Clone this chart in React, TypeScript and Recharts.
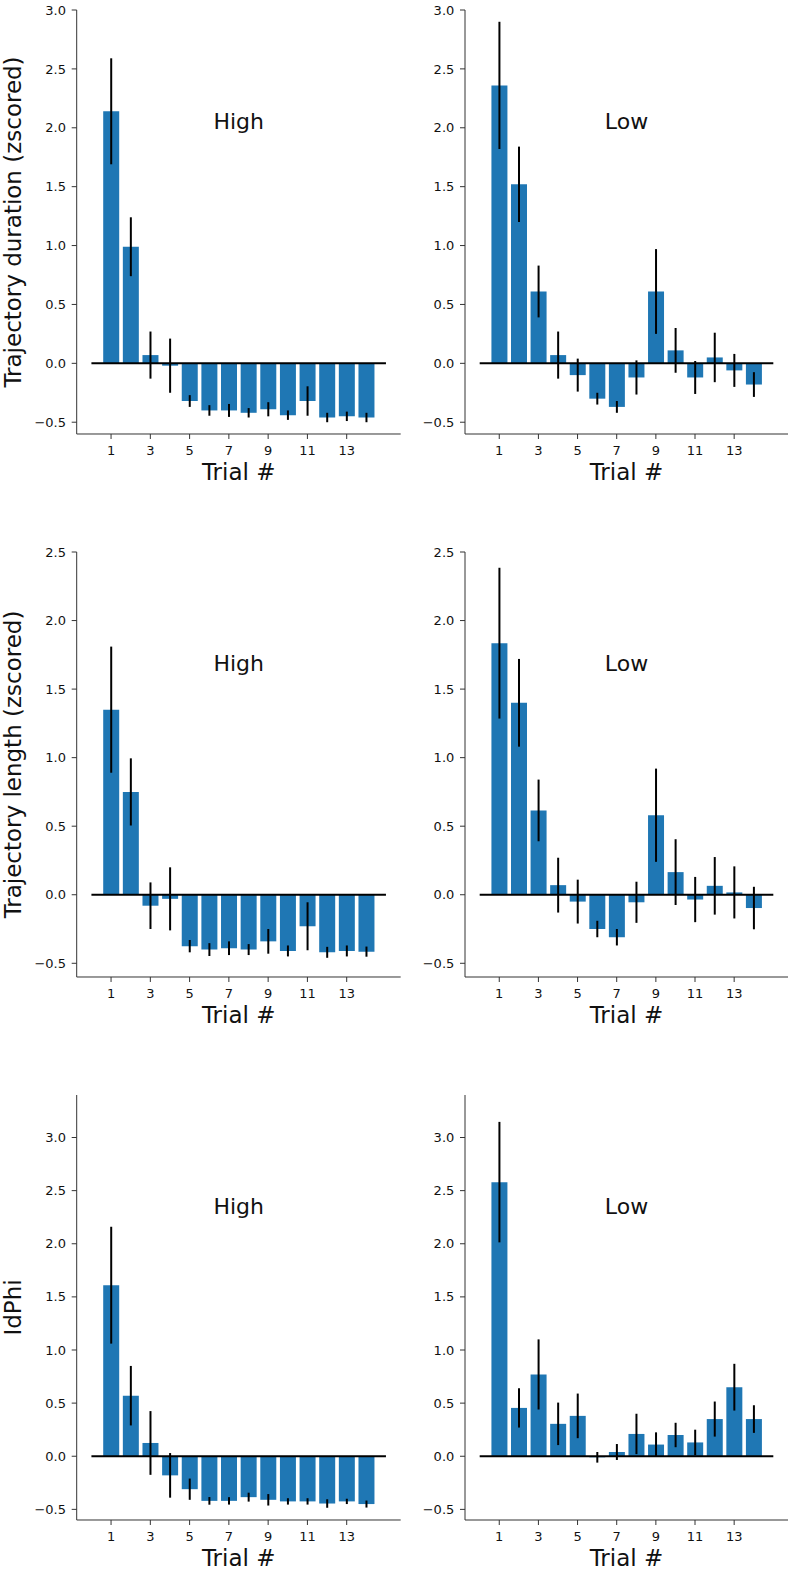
import React from 'react';
import { BarChart, Bar, XAxis, YAxis, ErrorBar, ReferenceLine, ReferenceDot } from 'recharts';

// trial numbers and tick lists
const trials = [1, 2, 3, 4, 5, 6, 7, 8, 9, 10, 11, 12, 13, 14];
const trialTicks = [1, 3, 5, 7, 9, 11, 13];
const ticksDuration = [-0.5, 0, 0.5, 1, 1.5, 2, 2.5, 3];
const ticksLength = [-0.5, 0, 0.5, 1, 1.5, 2, 2.5];
const ticksPhi = [-0.5, 0, 0.5, 1, 1.5, 2, 2.5, 3];

// trajectory duration (zscored)
const durHigh = [2.14, 0.99, 0.07, -0.02, -0.32, -0.4, -0.4, -0.42, -0.39, -0.44, -0.32, -0.46, -0.45, -0.46];
const durHighErr = [0.45, 0.25, 0.2, 0.23, 0.05, 0.045, 0.055, 0.04, 0.06, 0.04, 0.125, 0.04, 0.04, 0.04];
const durLow = [2.36, 1.52, 0.61, 0.07, -0.1, -0.3, -0.37, -0.12, 0.61, 0.11, -0.12, 0.05, -0.06, -0.18];
const durLowErr = [0.54, 0.32, 0.22, 0.2, 0.14, 0.05, 0.05, 0.145, 0.36, 0.19, 0.14, 0.21, 0.14, 0.105];

// trajectory length (zscored)
const lenHigh = [1.35, 0.75, -0.08, -0.03, -0.375, -0.4, -0.39, -0.4, -0.34, -0.41, -0.23, -0.42, -0.41, -0.415];
const lenHighErr = [0.46, 0.245, 0.17, 0.23, 0.045, 0.047, 0.05, 0.04, 0.09, 0.04, 0.175, 0.04, 0.04, 0.037];
const lenLow = [1.835, 1.4, 0.615, 0.07, -0.05, -0.25, -0.31, -0.055, 0.58, 0.165, -0.035, 0.065, 0.017, -0.097];
const lenLowErr = [0.55, 0.32, 0.225, 0.2, 0.16, 0.06, 0.06, 0.15, 0.34, 0.24, 0.165, 0.21, 0.19, 0.155];

// IdPhi
const phiHigh = [1.61, 0.57, 0.125, -0.18, -0.31, -0.42, -0.42, -0.385, -0.41, -0.425, -0.425, -0.445, -0.425, -0.45];
const phiHighErr = [0.55, 0.28, 0.3, 0.21, 0.1, 0.036, 0.035, 0.042, 0.054, 0.03, 0.03, 0.04, 0.025, 0.033];
const phiLow = [2.58, 0.455, 0.77, 0.305, 0.38, -0.01, 0.04, 0.21, 0.11, 0.2, 0.13, 0.35, 0.65, 0.35];
const phiLowErr = [0.567, 0.185, 0.33, 0.2, 0.21, 0.05, 0.075, 0.19, 0.115, 0.115, 0.12, 0.165, 0.22, 0.13];

const BLUE = '#1f77b4';
const AXIS = '#333';
const TEXT = '#111';
const FONT = '"DejaVu Sans", sans-serif';
const LABEL_SIZE = 23;

const fmt = (v: number) => (v < 0 ? '\u2212' : '') + Math.abs(v).toFixed(1);

const toRows = (values: number[], errs: number[]) =>
    trials.map((t, i) => ({ trial: t, v: values[i], e: errs[i] }));

interface PanelProps {
    values: number[];
    errs: number[];
    title: string;
    yLabel?: string;
    yDomain: [number, number];
    yTicks: number[];
    left: number;
    plotLeft: number;
    plotWidth: number;
    top: number;
    plotHeight: number;
}

function Panel({ values, errs, title, yLabel, yDomain, yTicks, left, plotLeft, plotWidth, top, plotHeight }: PanelProps) {
    const axisW = plotLeft - left;
    const width = axisW + plotWidth + 2;
    const height = 10 + plotHeight + 56;
    const [y0, y1] = yDomain;
    // x runs from -0.75 to 15.75, so the first/last bar centre sits 1.75 units in
    const pad = (plotWidth * 1.25) / 16.5;

    return (
        <div style={{ position: 'absolute', left, top: top - 10 }}>
            <BarChart
                width={width}
                height={height}
                data={toRows(values, errs)}
                margin={{ top: 10, right: 2, bottom: 0, left: 0 }}
                barCategoryGap="10%"
            >
                <XAxis dataKey="trial" type="category" hide height={0} padding={{ left: pad, right: pad }} />
                <XAxis
                    xAxisId="n"
                    dataKey="trial"
                    type="number"
                    domain={[-0.75, 15.75]}
                    allowDataOverflow
                    ticks={trialTicks}
                    interval={0}
                    height={56}
                    stroke={AXIS}
                    tickSize={5}
                    tickMargin={6.5}
                    tick={{ fontSize: 13, fill: TEXT }}
                    label={(p: any) => (
                        <text
                            x={p.viewBox.x + p.viewBox.width / 2}
                            y={p.viewBox.y + 46}
                            textAnchor="middle"
                            fontSize={LABEL_SIZE}
                            fill={TEXT}
                        >
                            Trial #
                        </text>
                    )}
                />
                <YAxis
                    type="number"
                    domain={yDomain}
                    allowDataOverflow
                    ticks={yTicks}
                    interval={0}
                    width={axisW}
                    stroke={AXIS}
                    tickSize={5}
                    tickMargin={5.7}
                    tickFormatter={fmt}
                    tick={{ fontSize: 13, fill: TEXT }}
                    label={
                        yLabel
                            ? (p: any) => {
                                  const x = p.viewBox.x + 21;
                                  const y = p.viewBox.y + p.viewBox.height / 2;
                                  return (
                                      <text
                                          x={x}
                                          y={y}
                                          transform={`rotate(-90, ${x}, ${y})`}
                                          textAnchor="middle"
                                          fontSize={LABEL_SIZE}
                                          fill={TEXT}
                                      >
                                          {yLabel}
                                      </text>
                                  );
                              }
                            : undefined
                    }
                />
                <Bar dataKey="v" fill={BLUE} isAnimationActive={false}>
                    <ErrorBar dataKey="e" width={0} stroke="#000" strokeWidth={2} direction="y" />
                </Bar>
                <ReferenceLine
                    xAxisId="n"
                    segment={[{ x: 0, y: 0 }, { x: 15, y: 0 }]}
                    stroke="#000"
                    strokeWidth={2}
                />
                <ReferenceDot
                    xAxisId="n"
                    x={7.5}
                    y={y0 + 0.72 * (y1 - y0)}
                    r={1}
                    fill="none"
                    stroke="none"
                    label={(p: any) => (
                        <text
                            x={p.viewBox.x + p.viewBox.width / 2}
                            y={p.viewBox.y + p.viewBox.height / 2}
                            textAnchor="middle"
                            fontSize={22}
                            fill={TEXT}
                        >
                            {title}
                        </text>
                    )}
                />
            </BarChart>
        </div>
    );
}

const cols = [
    { left: 0, plotLeft: 76.7, plotWidth: 324 },
    { left: 405, plotLeft: 465, plotWidth: 323 },
];
const rows = [
    { top: 10, plotHeight: 424 },
    { top: 552.3, plotHeight: 425 },
    { top: 1094.6, plotHeight: 425 },
];

export default function App() {
    return (
        <div
            style={{
                position: 'absolute',
                left: 0,
                top: 0,
                width: 795,
                height: 1572,
                background: '#fff',
                fontFamily: FONT,
            }}
        >
            <Panel values={durHigh} errs={durHighErr} title="High" yLabel="Trajectory duration (zscored)"
                yDomain={[-0.6, 3.0]} yTicks={ticksDuration} {...cols[0]} {...rows[0]} />
            <Panel values={durLow} errs={durLowErr} title="Low"
                yDomain={[-0.6, 3.0]} yTicks={ticksDuration} {...cols[1]} {...rows[0]} />
            <Panel values={lenHigh} errs={lenHighErr} title="High" yLabel="Trajectory length (zscored)"
                yDomain={[-0.6, 2.5]} yTicks={ticksLength} {...cols[0]} {...rows[1]} />
            <Panel values={lenLow} errs={lenLowErr} title="Low"
                yDomain={[-0.6, 2.5]} yTicks={ticksLength} {...cols[1]} {...rows[1]} />
            <Panel values={phiHigh} errs={phiHighErr} title="High" yLabel="IdPhi"
                yDomain={[-0.6, 3.4]} yTicks={ticksPhi} {...cols[0]} {...rows[2]} />
            <Panel values={phiLow} errs={phiLowErr} title="Low"
                yDomain={[-0.6, 3.4]} yTicks={ticksPhi} {...cols[1]} {...rows[2]} />
        </div>
    );
}
